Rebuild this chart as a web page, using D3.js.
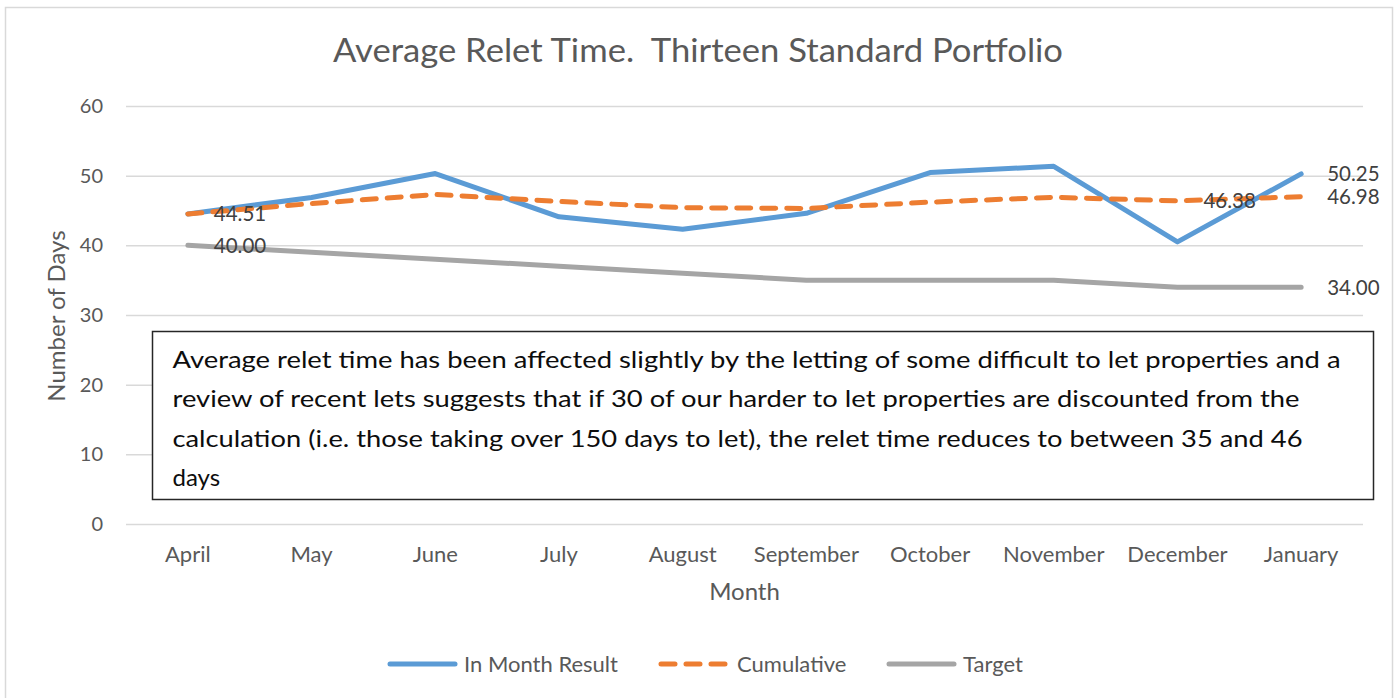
<!DOCTYPE html>
<html>
<head>
<meta charset="utf-8">
<script src="https://cdn.jsdelivr.net/npm/d3@7"></script>
<style>
  html, body { margin: 0; padding: 0; background: #fff; }
  svg { display: block; font-family: Lato, "Open Sans", sans-serif; }
  svg text { white-space: pre; }
</style>
</head>
<body>
<svg id="chart" width="1400" height="698"></svg>
<script>
// ---- Data ----
const months = ["April", "May", "June", "July", "August", "September", "October", "November", "December", "January"];
const inMonthResult = [44.51, 46.87, 50.30, 44.10, 42.30, 44.60, 50.45, 51.35, 40.50, 50.25];
const cumulative = [44.51, 46.00, 47.30, 46.30, 45.40, 45.30, 46.20, 46.90, 46.38, 46.98];
const target = [40.00, 39.00, 38.00, 37.00, 36.00, 35.00, 35.00, 35.00, 34.00, 34.00];
const yTicks = [0, 10, 20, 30, 40, 50, 60];
const seriesNames = ["In Month Result", "Cumulative", "Target"];
// which points carry a data label: [series index, month index]
const labelledPoints = [[1, 0], [2, 0], [1, 8], [0, 9], [1, 9], [2, 9]];
const titleText = "Average Relet Time.  Thirteen Standard Portfolio";
const xTitle = "Month";
const yTitle = "Number of Days";
const noteLines = [
  "Average relet time has been affected slightly by the letting of some difficult to let properties and a",
  "review of recent lets suggests that if 30 of our harder to let properties are discounted from the",
  "calculation (i.e. those taking over 150 days to let), the relet time reduces to between 35 and 46",
  "days"
];

// ---- Styles ----
const colors = ["#5B9BD5", "#ED7D31", "#A5A5A5"];
const dashes = [null, "14 11", null];
const textGray = "#595959";

const svg = d3.select("#chart");

// outer frame
svg.append("rect")
  .attr("x", 5.5).attr("y", 7.5).attr("width", 1387).attr("height", 700)
  .attr("fill", "#fff").attr("stroke", "#D9D9D9").attr("stroke-width", 1.5);

const plotLeft = 126, plotRight = 1363, plotTop = 106, plotBottom = 524;

const x = d3.scaleBand().domain(months).range([plotLeft, plotRight]).padding(0);
const xc = m => x(m) + x.bandwidth() / 2;
const y = d3.scaleLinear().domain([0, 60]).range([plotBottom, plotTop]);

// title
svg.append("text")
  .attr("x", 698).attr("y", 62)
  .attr("text-anchor", "middle")
  .attr("font-size", 32)
  .attr("fill", textGray)
  .attr("textLength", 730).attr("lengthAdjust", "spacingAndGlyphs")
  .text(titleText);

// y axis with gridlines
const yAxis = svg.append("g")
  .attr("transform", `translate(${plotLeft},0)`)
  .call(d3.axisLeft(y).tickValues(yTicks).tickSize(-(plotRight - plotLeft)).tickPadding(23).tickFormat(d3.format("d")));
yAxis.select(".domain").remove();
yAxis.selectAll(".tick line").attr("stroke", "#D9D9D9").attr("stroke-width", 1.5);
yAxis.selectAll(".tick text").attr("fill", textGray).attr("font-size", 20).attr("font-family", "Lato, sans-serif");

// x axis
const xAxis = svg.append("g")
  .attr("transform", `translate(0,${plotBottom})`)
  .call(d3.axisBottom(x).tickSize(0).tickPadding(22));
xAxis.select(".domain").remove();
xAxis.selectAll(".tick text").attr("fill", textGray).attr("font-size", 22).attr("font-family", "Lato, sans-serif");

// axis titles
svg.append("text")
  .attr("x", (plotLeft + plotRight) / 2).attr("y", 600)
  .attr("text-anchor", "middle").attr("font-size", 24).attr("fill", textGray)
  .text(xTitle);
svg.append("text")
  .attr("transform", "translate(65,316) rotate(-90)")
  .attr("text-anchor", "middle").attr("font-size", 24).attr("fill", textGray)
  .text(yTitle);

// lines
const allSeries = [inMonthResult, cumulative, target];
const line = d3.line().x((d, i) => xc(months[i])).y(d => y(d));
svg.append("g").selectAll("path")
  .data(allSeries)
  .join("path")
  .attr("d", d => line(d))
  .attr("fill", "none")
  .attr("stroke", (d, i) => colors[i])
  .attr("stroke-width", 5)
  .attr("stroke-linecap", "round")
  .attr("stroke-linejoin", "round")
  .attr("stroke-dasharray", (d, i) => dashes[i]);

// data labels
const fmt = d3.format(".2f");
svg.append("g").selectAll("text")
  .data(labelledPoints)
  .join("text")
  .attr("x", d => xc(months[d[1]]) + 26)
  .attr("y", d => y(allSeries[d[0]][d[1]]))
  .attr("dy", "0.36em")
  .attr("font-size", 20.5)
  .attr("fill", "#404040")
  .text(d => fmt(allSeries[d[0]][d[1]]));

// annotation box
svg.append("rect")
  .attr("x", 152.5).attr("y", 331.5).attr("width", 1221).attr("height", 168)
  .attr("fill", "#fff").attr("stroke", "#262626").attr("stroke-width", 1.5);
const noteWidths = [1168, 1127, 1130, null];
svg.append("g").selectAll("text")
  .data(noteLines)
  .join("text")
  .attr("x", 172.5)
  .attr("y", (d, i) => 368 + i * 39.3)
  .attr("font-size", 24)
  .attr("fill", "#0D0D0D")
  .each(function (d, i) {
    if (noteWidths[i]) d3.select(this).attr("textLength", noteWidths[i]).attr("lengthAdjust", "spacingAndGlyphs");
  })
  .text(d => d);

// legend
const legendX = [387, 658, 886];
const legend = svg.append("g").selectAll("g")
  .data(seriesNames)
  .join("g")
  .attr("transform", (d, i) => `translate(${legendX[i]},664)`);
legend.append("line")
  .attr("x1", 3).attr("x2", 68).attr("y1", 0).attr("y2", 0)
  .attr("stroke", (d, i) => colors[i])
  .attr("stroke-width", 5)
  .attr("stroke-linecap", "round")
  .attr("stroke-dasharray", (d, i) => dashes[i]);
legend.append("text")
  .attr("x", (d, i) => i === 1 ? 79 : 77)
  .attr("y", 0).attr("dy", "0.36em")
  .attr("font-size", 22).attr("fill", textGray)
  .text(d => d);
</script>
</body>
</html>
